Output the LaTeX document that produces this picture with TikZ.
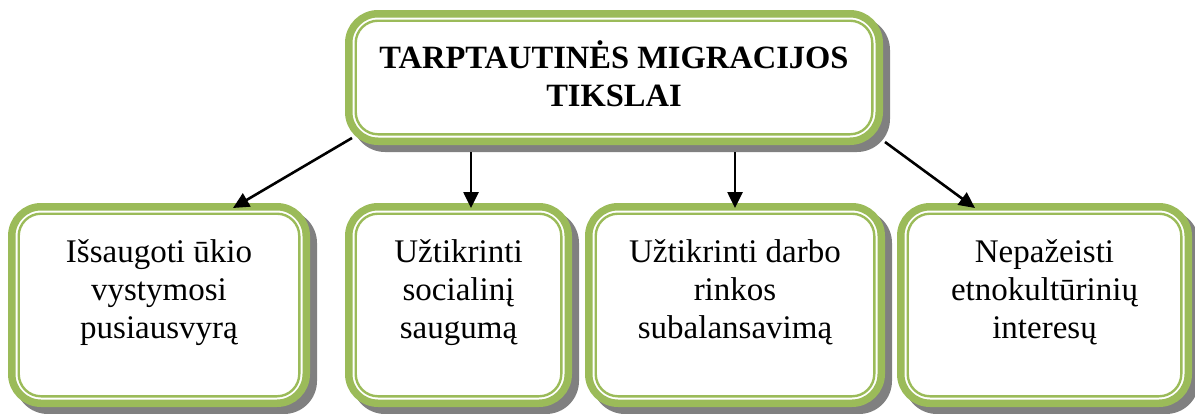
\documentclass[tikz,border=0pt]{standalone}
\usepackage{fontspec}
\setmainfont{Liberation Serif}
\usetikzlibrary{backgrounds,arrows.meta,calc}
\definecolor{boxgreen}{HTML}{9BBB59}
\definecolor{shadowgray}{HTML}{808080}
\tikzset{
  boxframe/.style={rectangle, inner sep=0pt, outer sep=0pt, draw=none},
  boxtext/.style={align=center, anchor=north, font=\fontsize{33}{38}\selectfont, inner sep=0pt},
  titletext/.style={align=center, anchor=north, font=\bfseries\fontsize{32.5}{38}\selectfont, inner sep=0pt},
  arrowline/.style={line width=2.6pt, -{Triangle[length=16pt,width=15pt]}},
}
\newcommand{\fancyframe}[1]{%
  \fill[shadowgray, rounded corners=33pt] ($(#1.north west)+(7,-7)$) rectangle ($(#1.south east)+(7,-7)$);
  \draw[boxgreen, line width=7.5pt, fill=white, rounded corners=29.25pt] ($(#1.north west)+(3.75,-3.75)$) rectangle ($(#1.south east)+(-3.75,3.75)$);
  \draw[boxgreen, line width=2.4pt, rounded corners=22.3pt] ($(#1.north west)+(10.7,-10.7)$) rectangle ($(#1.south east)+(-10.7,10.7)$);
}
\begin{document}
\begin{tikzpicture}[x=1pt,y=1pt]
\useasboundingbox (0,0) rectangle (1195,-413);
% frames
\node[boxframe, minimum width=538pt, minimum height=135pt] (top) at (614,-77.5) {};
\node[boxframe, minimum width=302pt, minimum height=204pt] (b1) at (159,-305) {};
\node[boxframe, minimum width=227pt, minimum height=204pt] (b2) at (458.5,-305) {};
\node[boxframe, minimum width=300pt, minimum height=204pt] (b3) at (735,-305) {};
\node[boxframe, minimum width=295pt, minimum height=204pt] (b4) at (1044.5,-305) {};
\begin{scope}[on background layer]
  \fancyframe{top}
  \fancyframe{b1}
  \fancyframe{b2}
  \fancyframe{b3}
  \fancyframe{b4}
\end{scope}
% texts
\node[titletext] (ttop) at ($(top.north)+(0,-30)$) {TARPTAUTINĖS MIGRACIJOS\\TIKSLAI};
\node[boxtext] (t1) at ($(b1.north)+(0,-36.5)$) {Išsaugoti ūkio\\vystymosi\\pusiausvyrą};
\node[boxtext] (t2) at ($(b2.north)+(0,-36.5)$) {Užtikrinti\\socialinį\\saugumą};
\node[boxtext] (t3) at ($(b3.north)+(0,-36.5)$) {Užtikrinti darbo\\rinkos\\subalansavimą};
\node[boxtext] (t4) at ($(b4.north)+(0,-36.5)$) {Nepažeisti\\etnokultūrinių\\interesų};
% arrows
\draw[arrowline] ($(top.south west)+(7,7)$) -- ($(b1.north east)+(-77,-5)$);
\draw[arrowline] ($(top.south west)+(126,-7)$) -- ($(b2.north west)+(126,-5)$);
\draw[arrowline] ($(top.south west)+(390,-7)$) -- ($(b3.north west)+(150,-5)$);
\draw[arrowline] ($(top.south east)+(2,3)$) -- ($(b4.north west)+(78,-5)$);
\end{tikzpicture}
\end{document}
